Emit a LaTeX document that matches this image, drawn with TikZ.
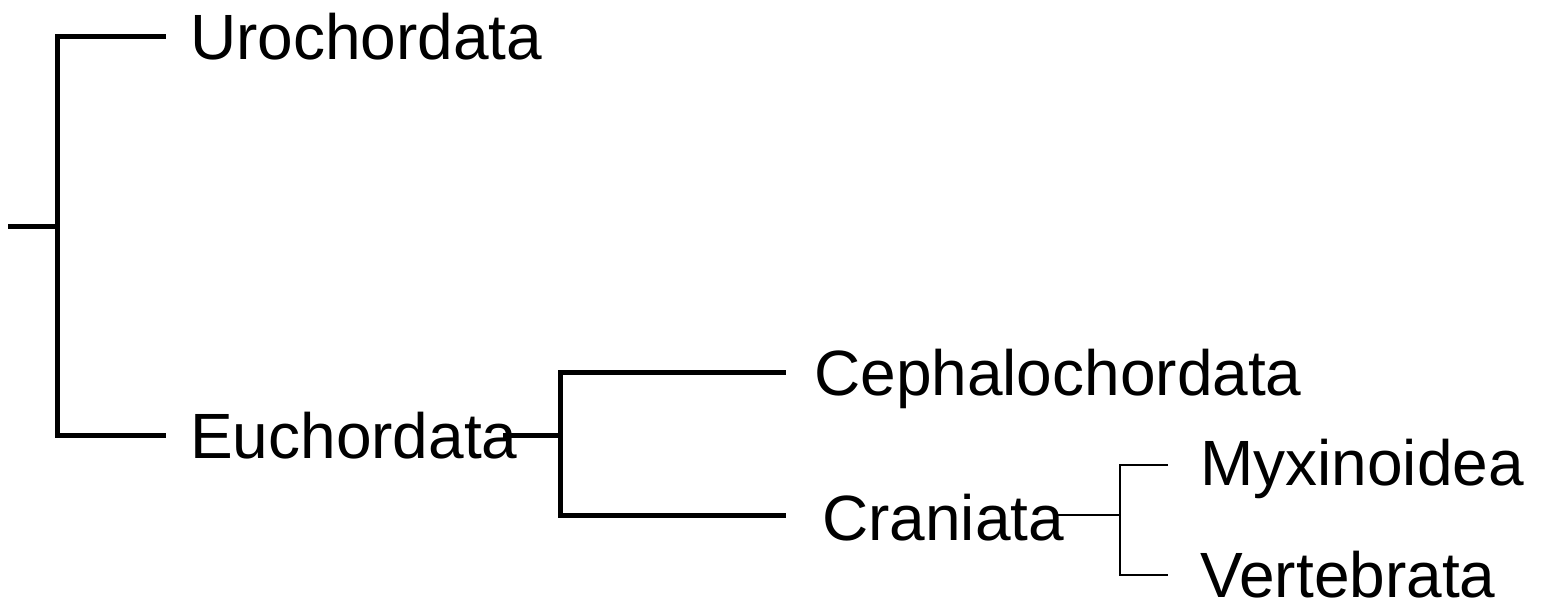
\documentclass[tikz,border=0pt]{standalone}
\usepackage{fontspec}
\setmainfont{Liberation Sans}
\begin{document}
\begin{tikzpicture}[x=1pt,y=-1pt,
  taxon/.style={anchor=base west,inner sep=0pt,text depth=0pt,font=\fontsize{64}{76}\selectfont},
  thick branch/.style={line width=5pt,line cap=rect,line join=miter},
  thin branch/.style={line width=1.6pt,line join=miter}]
\useasboundingbox (0,0) rectangle (1542,607);
% labels
\node[taxon] (uro) at (190,60) {Urochordata};
\node[taxon] (euc) at (190,458) {Euchordata};
\node[taxon] (cep) at (814,395) {Cephalochordata};
\node[taxon] (cra) at (822,540) {Craniata};
\node[taxon] (myx) at (1200,485) {Myxinoidea};
\node[taxon] (ver) at (1200,597) {Vertebrata};
% joints
\coordinate (root) at (10,226);
\coordinate (j1) at (57,226);
\coordinate (j1u) at (57,37);
\coordinate (j1e) at (57,435);
\coordinate (uroEnd) at (163,37);
\coordinate (eucEnd) at (163,435);
\coordinate (eucOut) at (505,435);
\coordinate (j2) at (560,435);
\coordinate (j2c) at (560,372);
\coordinate (j2r) at (560,515);
\coordinate (cepEnd) at (783,372);
\coordinate (craEnd) at (783,515);
\coordinate (craOut) at (1056,515);
\coordinate (j3) at (1120,515);
\coordinate (j3m) at (1120,465);
\coordinate (j3v) at (1120,575);
\coordinate (myxEnd) at (1168,465);
\coordinate (verEnd) at (1168,575);
% branches
\draw[thick branch] (root) -- (j1);
\draw[thick branch] (uroEnd) -- (j1u) -- (j1e) -- (eucEnd);
\draw[thick branch] (eucOut) -- (j2);
\draw[thick branch] (cepEnd) -- (j2c) -- (j2r) -- (craEnd);
\draw[thin branch] (craOut) -- (j3);
\draw[thin branch] (myxEnd) -- (j3m) -- (j3v) -- (verEnd);
\end{tikzpicture}
\end{document}
